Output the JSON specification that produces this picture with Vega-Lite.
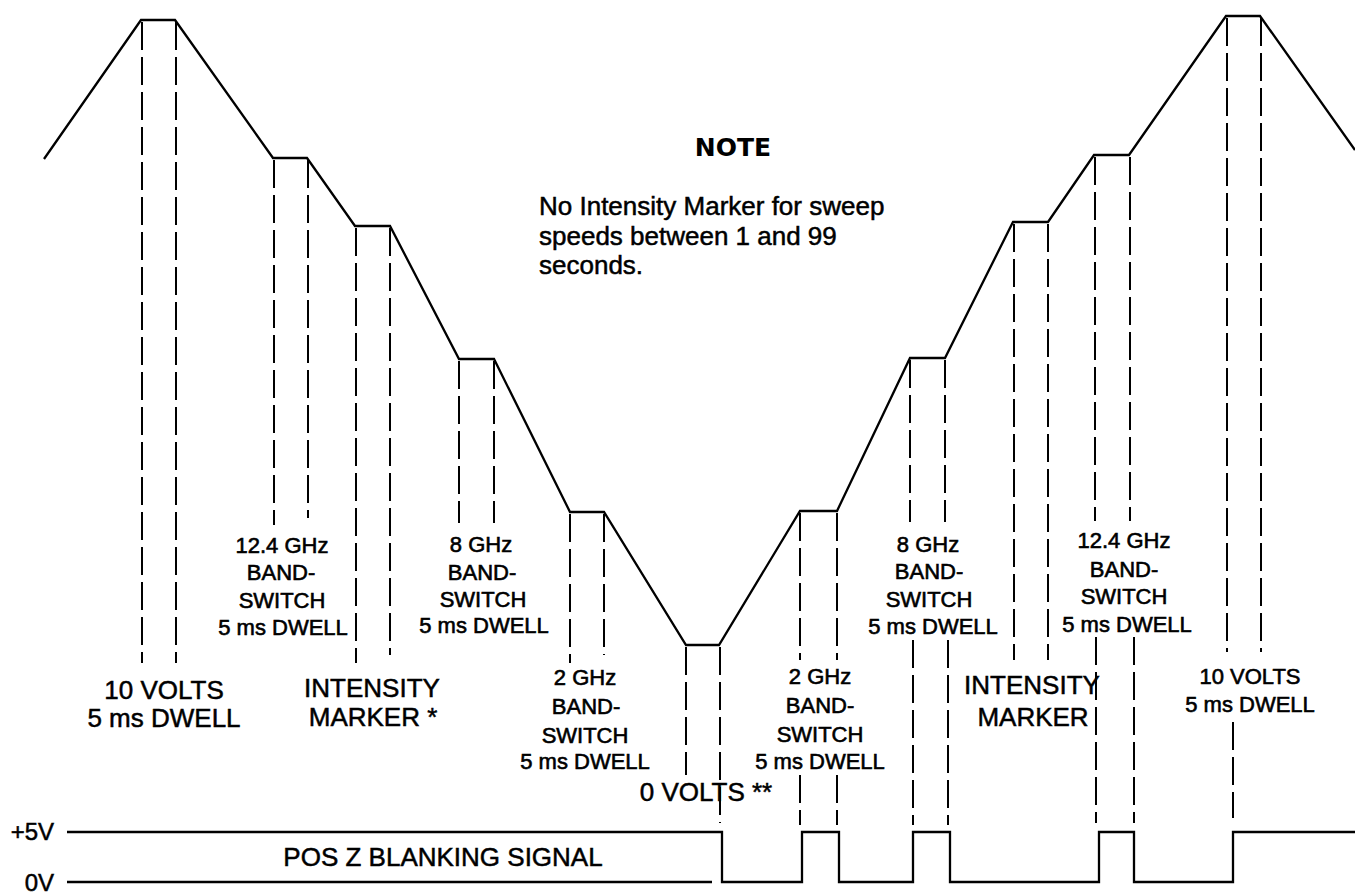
{
  "$schema": "https://vega.github.io/schema/vega-lite/v6.json",
  "width": 1355,
  "height": 896,
  "padding": 0,
  "autosize": "none",
  "background": "white",
  "config": {"view": {"stroke": null}, "text": {"font": "Liberation Sans", "color": "#000"}},
  "datasets": {
    "ramp": [
      {"i": 1, "x": 44, "y": 159}, {"i": 2, "x": 141, "y": 20}, {"i": 3, "x": 175, "y": 20},
      {"i": 4, "x": 273, "y": 158}, {"i": 5, "x": 307, "y": 158}, {"i": 6, "x": 355, "y": 226},
      {"i": 7, "x": 390, "y": 226}, {"i": 8, "x": 459, "y": 359}, {"i": 9, "x": 494, "y": 359},
      {"i": 10, "x": 570, "y": 512}, {"i": 11, "x": 604, "y": 512}, {"i": 12, "x": 686, "y": 645},
      {"i": 13, "x": 719, "y": 645}, {"i": 14, "x": 800, "y": 511}, {"i": 15, "x": 837, "y": 511},
      {"i": 16, "x": 910, "y": 358}, {"i": 17, "x": 945, "y": 358}, {"i": 18, "x": 1013, "y": 222},
      {"i": 19, "x": 1048, "y": 222}, {"i": 20, "x": 1094, "y": 155}, {"i": 21, "x": 1129, "y": 155},
      {"i": 22, "x": 1226, "y": 16}, {"i": 23, "x": 1260, "y": 16}, {"i": 24, "x": 1355, "y": 150}
    ],
    "blank": [
      {"i": 1, "x": 67, "y": 832}, {"i": 2, "x": 722, "y": 832}, {"i": 3, "x": 722, "y": 882},
      {"i": 4, "x": 802, "y": 882}, {"i": 5, "x": 802, "y": 832}, {"i": 6, "x": 839, "y": 832},
      {"i": 7, "x": 839, "y": 882}, {"i": 8, "x": 913, "y": 882}, {"i": 9, "x": 913, "y": 832},
      {"i": 10, "x": 950, "y": 832}, {"i": 11, "x": 950, "y": 882}, {"i": 12, "x": 1099, "y": 882},
      {"i": 13, "x": 1099, "y": 832}, {"i": 14, "x": 1134, "y": 832}, {"i": 15, "x": 1134, "y": 882},
      {"i": 16, "x": 1233, "y": 882}, {"i": 17, "x": 1233, "y": 832}, {"i": 18, "x": 1355, "y": 832}
    ],
    "zero": [{"x": 67, "x2": 712, "y": 882}],
    "dash": [
      {"x": 142, "y": 22, "y2": 663}, {"x": 176, "y": 22, "y2": 663},
      {"x": 274, "y": 160, "y2": 525}, {"x": 308, "y": 160, "y2": 518},
      {"x": 356, "y": 228, "y2": 663}, {"x": 390, "y": 228, "y2": 655},
      {"x": 459, "y": 361, "y2": 523}, {"x": 494, "y": 361, "y2": 523},
      {"x": 570, "y": 514, "y2": 663}, {"x": 604, "y": 514, "y2": 655},
      {"x": 686, "y": 647, "y2": 775}, {"x": 720, "y": 647, "y2": 823},
      {"x": 800, "y": 513, "y2": 660}, {"x": 800, "y": 775, "y2": 825},
      {"x": 837, "y": 513, "y2": 660}, {"x": 837, "y": 775, "y2": 825},
      {"x": 910, "y": 360, "y2": 522}, {"x": 913, "y": 640, "y2": 825},
      {"x": 945, "y": 360, "y2": 522}, {"x": 948, "y": 640, "y2": 825},
      {"x": 1014, "y": 224, "y2": 660}, {"x": 1048, "y": 224, "y2": 660},
      {"x": 1095, "y": 157, "y2": 521}, {"x": 1096, "y": 637, "y2": 823},
      {"x": 1130, "y": 157, "y2": 521}, {"x": 1134, "y": 637, "y2": 823},
      {"x": 1227, "y": 18, "y2": 652}, {"x": 1233, "y": 722, "y2": 818},
      {"x": 1261, "y": 18, "y2": 652}
    ],
    "bigText": [
      {"x": 164, "y": 691, "t": "10 VOLTS"}, {"x": 164, "y": 719, "t": "5 ms DWELL"},
      {"x": 372, "y": 689, "t": "INTENSITY"}, {"x": 373, "y": 718, "t": "MARKER *"},
      {"x": 706, "y": 793, "t": "0 VOLTS **"},
      {"x": 1032, "y": 686, "t": "INTENSITY"}, {"x": 1033, "y": 718, "t": "MARKER"},
      {"x": 443, "y": 858, "t": "POS Z BLANKING SIGNAL"}
    ],
    "smallText": [
      {"x": 282, "y": 546, "t": "12.4 GHz"}, {"x": 281, "y": 573, "t": "BAND-"}, {"x": 282, "y": 601, "t": "SWITCH"}, {"x": 283, "y": 628, "t": "5 ms DWELL"},
      {"x": 481, "y": 545, "t": "8 GHz"}, {"x": 482, "y": 573, "t": "BAND-"}, {"x": 483, "y": 600, "t": "SWITCH"}, {"x": 484, "y": 626, "t": "5 ms DWELL"},
      {"x": 585, "y": 678, "t": "2 GHz"}, {"x": 586, "y": 707, "t": "BAND-"}, {"x": 585, "y": 736, "t": "SWITCH"}, {"x": 585, "y": 762, "t": "5 ms DWELL"},
      {"x": 820, "y": 677, "t": "2 GHz"}, {"x": 820, "y": 706, "t": "BAND-"}, {"x": 820, "y": 735, "t": "SWITCH"}, {"x": 820, "y": 762, "t": "5 ms DWELL"},
      {"x": 928, "y": 545, "t": "8 GHz"}, {"x": 929, "y": 572, "t": "BAND-"}, {"x": 929, "y": 600, "t": "SWITCH"}, {"x": 933, "y": 627, "t": "5 ms DWELL"},
      {"x": 1124, "y": 541, "t": "12.4 GHz"}, {"x": 1124, "y": 570, "t": "BAND-"}, {"x": 1124, "y": 597, "t": "SWITCH"}, {"x": 1127, "y": 625, "t": "5 ms DWELL"},
      {"x": 1250, "y": 677, "t": "10 VOLTS"}, {"x": 1250, "y": 705, "t": "5 ms DWELL"}
    ],
    "levels": [
      {"x": 54, "y": 833, "t": "+5V"}, {"x": 54, "y": 884, "t": "0V"}
    ],
    "noteHead": [{"x": 733, "y": 148, "t": "NOTE"}],
    "noteBody": [
      {"x": 539, "y": 207, "t": "No Intensity Marker for sweep"},
      {"x": 539, "y": 237, "t": "speeds between 1 and 99"},
      {"x": 539, "y": 266, "t": "seconds."}
    ]
  },
  "layer": [
    {
      "data": {"name": "dash"},
      "mark": {"type": "rule", "stroke": "#000", "strokeWidth": 2, "strokeDash": [28, 7]},
      "encoding": {
        "x": {"field": "x", "type": "quantitative", "scale": {"domain": [0, 1355], "nice": false, "zero": false}, "axis": null},
        "y": {"field": "y", "type": "quantitative", "scale": {"domain": [0, 896], "nice": false, "zero": false, "reverse": true}, "axis": null},
        "y2": {"field": "y2"}
      }
    },
    {
      "data": {"name": "ramp"},
      "mark": {"type": "line", "stroke": "#000", "strokeWidth": 2.3},
      "encoding": {
        "x": {"field": "x", "type": "quantitative", "axis": null},
        "y": {"field": "y", "type": "quantitative", "axis": null},
        "order": {"field": "i"}
      }
    },
    {
      "data": {"name": "blank"},
      "mark": {"type": "line", "stroke": "#000", "strokeWidth": 2.3},
      "encoding": {
        "x": {"field": "x", "type": "quantitative", "axis": null},
        "y": {"field": "y", "type": "quantitative", "axis": null},
        "order": {"field": "i"}
      }
    },
    {
      "data": {"name": "zero"},
      "mark": {"type": "rule", "stroke": "#000", "strokeWidth": 2.3},
      "encoding": {
        "x": {"field": "x", "type": "quantitative", "axis": null},
        "x2": {"field": "x2"},
        "y": {"field": "y", "type": "quantitative", "axis": null}
      }
    },
    {
      "data": {"name": "bigText"},
      "mark": {"type": "text", "fontSize": 26, "align": "center", "baseline": "middle", "stroke": "#000", "strokeWidth": 0.5},
      "encoding": {
        "x": {"field": "x", "type": "quantitative", "axis": null},
        "y": {"field": "y", "type": "quantitative", "axis": null},
        "text": {"field": "t"}
      }
    },
    {
      "data": {"name": "smallText"},
      "mark": {"type": "text", "fontSize": 22, "align": "center", "baseline": "middle", "stroke": "#000", "strokeWidth": 0.6},
      "encoding": {
        "x": {"field": "x", "type": "quantitative", "axis": null},
        "y": {"field": "y", "type": "quantitative", "axis": null},
        "text": {"field": "t"}
      }
    },
    {
      "data": {"name": "levels"},
      "mark": {"type": "text", "fontSize": 24, "align": "right", "baseline": "middle", "stroke": "#000", "strokeWidth": 0.5},
      "encoding": {
        "x": {"field": "x", "type": "quantitative", "axis": null},
        "y": {"field": "y", "type": "quantitative", "axis": null},
        "text": {"field": "t"}
      }
    },
    {
      "data": {"name": "noteHead"},
      "mark": {"type": "text", "font": "DejaVu Sans", "fontSize": 25, "fontWeight": "bold", "align": "center", "baseline": "middle"},
      "encoding": {
        "x": {"field": "x", "type": "quantitative", "axis": null},
        "y": {"field": "y", "type": "quantitative", "axis": null},
        "text": {"field": "t"}
      }
    },
    {
      "data": {"name": "noteBody"},
      "mark": {"type": "text", "fontSize": 26, "align": "left", "baseline": "middle", "stroke": "#000", "strokeWidth": 0.5},
      "encoding": {
        "x": {"field": "x", "type": "quantitative", "axis": null},
        "y": {"field": "y", "type": "quantitative", "axis": null},
        "text": {"field": "t"}
      }
    }
  ]
}
